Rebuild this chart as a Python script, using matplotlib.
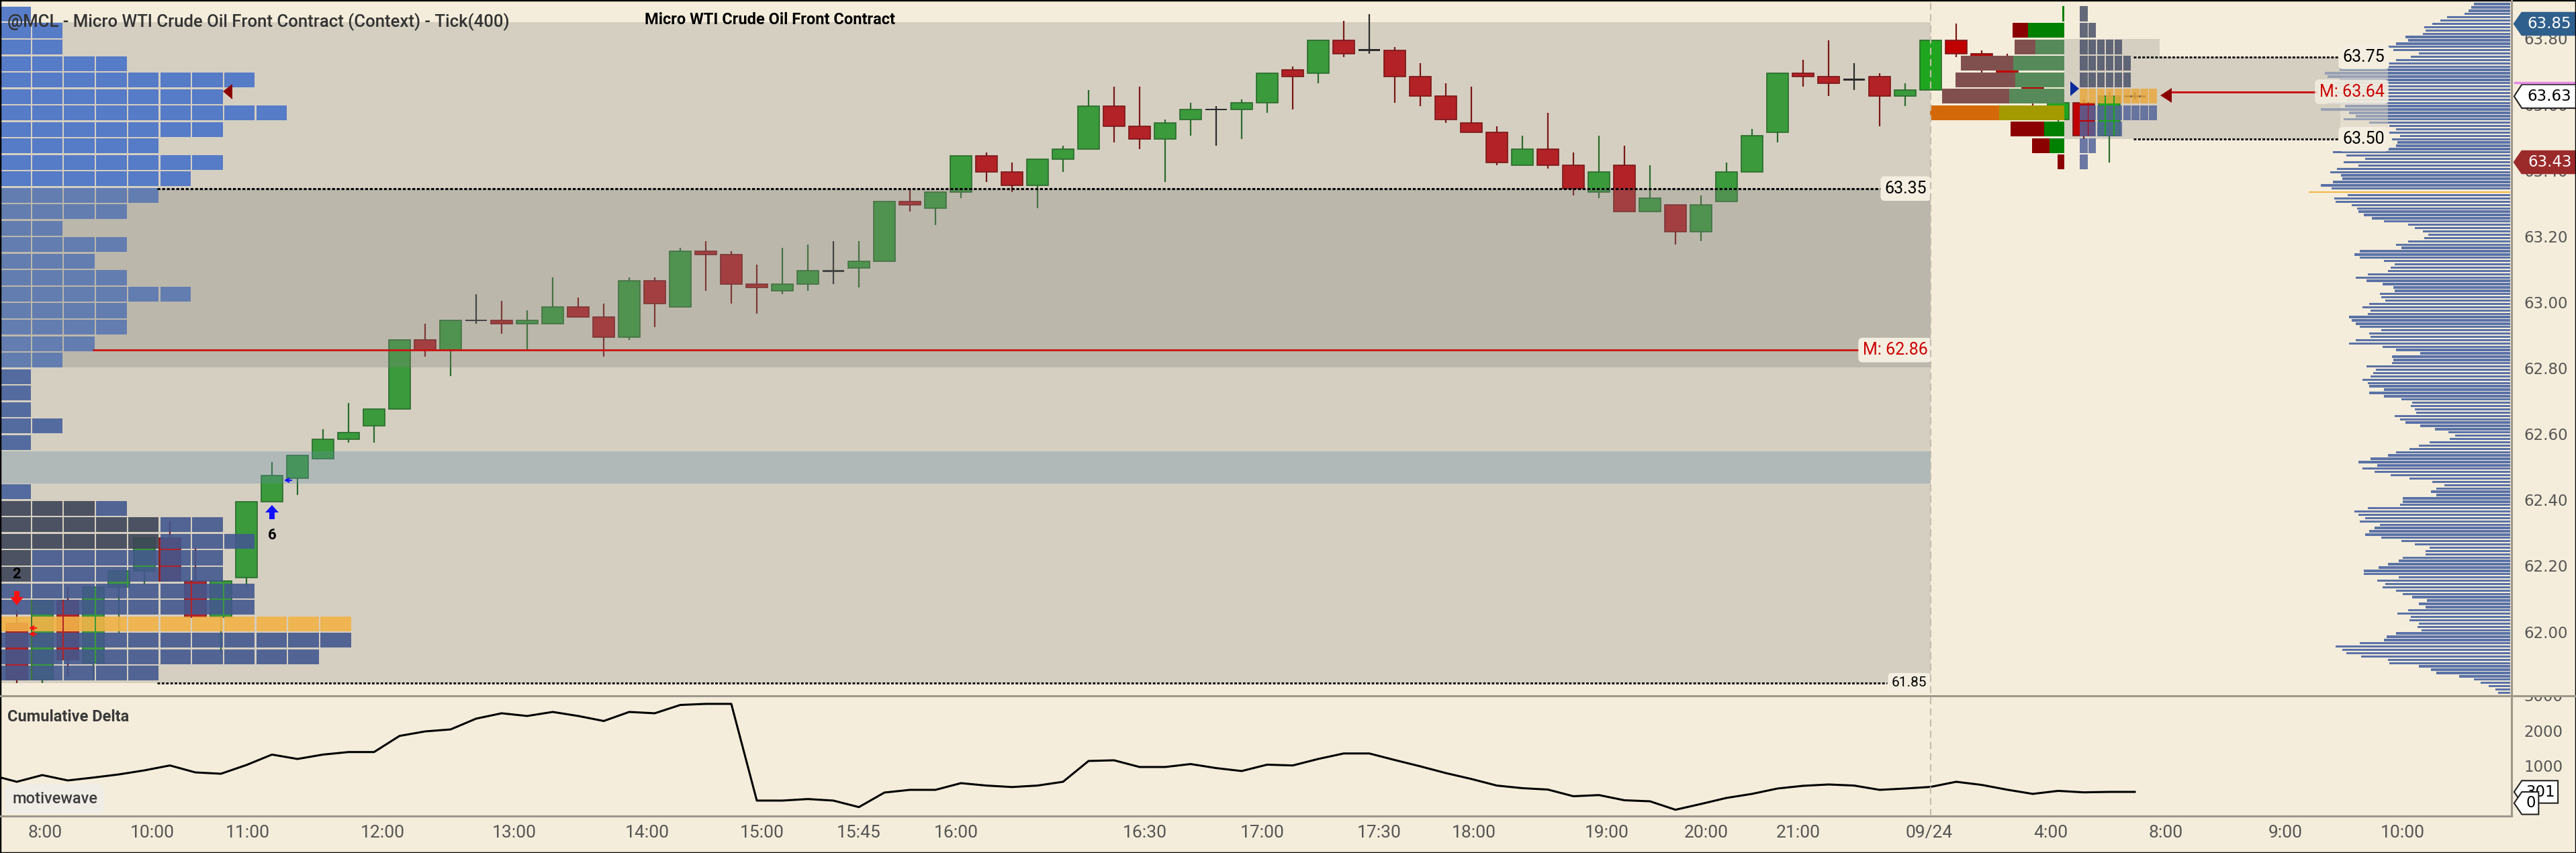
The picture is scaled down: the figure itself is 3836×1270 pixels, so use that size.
import matplotlib
matplotlib.use("Agg")
import matplotlib.pyplot as plt
import matplotlib.transforms as mtransforms
from matplotlib.lines import Line2D
from matplotlib.patches import Rectangle, Polygon
import numpy as np

plt.rcParams['font.family'] = ['Roboto', 'DejaVu Sans']

# ---------------- data ----------------
# 400-tick bars, bar 75 is the first bar of 09/24
opens = [62.03, 61.86, 62.10, 61.91, 62.14, 62.19, 62.29, 62.16, 62.05, 62.17,
         62.40, 62.47, 62.53, 62.59, 62.63, 62.68, 62.89, 62.86, 62.95, 62.95,
         62.94, 62.94, 62.99, 62.96, 62.90, 63.07, 62.99, 63.16, 63.15, 63.06,
         63.04, 63.06, 63.10, 63.11, 63.13, 63.31, 63.29, 63.34, 63.45, 63.40,
         63.36, 63.44, 63.47, 63.60, 63.54, 63.50, 63.56, 63.59, 63.59, 63.61,
         63.71, 63.70, 63.80, 63.77, 63.77, 63.69, 63.63, 63.55, 63.52, 63.42,
         63.47, 63.42, 63.34, 63.42, 63.28, 63.30, 63.22, 63.31, 63.40, 63.52,
         63.70, 63.69, 63.68, 63.69, 63.63, 63.65, 63.80, 63.76, 63.73, 63.66,
         63.56, 63.61, 63.51, 63.63]
highs = [62.07, 62.10, 62.14, 62.14, 62.19, 62.29, 62.34, 62.26, 62.16, 62.40,
         62.52, 62.54, 62.62, 62.70, 62.68, 62.89, 62.94, 62.95, 63.03, 63.01,
         62.98, 63.08, 63.02, 63.00, 63.08, 63.08, 63.17, 63.19, 63.16, 63.12,
         63.17, 63.18, 63.19, 63.19, 63.31, 63.35, 63.34, 63.45, 63.46, 63.43,
         63.44, 63.48, 63.65, 63.66, 63.66, 63.56, 63.61, 63.60, 63.62, 63.70,
         63.72, 63.80, 63.86, 63.88, 63.78, 63.73, 63.67, 63.66, 63.54, 63.51,
         63.58, 63.46, 63.51, 63.48, 63.42, 63.30, 63.33, 63.43, 63.53, 63.70,
         63.74, 63.80, 63.73, 63.70, 63.67, 63.80, 63.85, 63.77, 63.76, 63.70,
         63.61, 63.62, 63.64, 63.64]
lows = [61.85, 61.85, 61.87, 61.86, 62.00, 62.15, 62.16, 62.05, 61.94, 62.14,
        62.40, 62.42, 62.53, 62.58, 62.58, 62.68, 62.84, 62.78, 62.94, 62.91,
        62.86, 62.94, 62.96, 62.84, 62.89, 62.93, 62.99, 63.04, 63.00, 62.97,
        63.03, 63.04, 63.06, 63.05, 63.13, 63.28, 63.24, 63.32, 63.37, 63.34,
        63.29, 63.40, 63.47, 63.49, 63.47, 63.37, 63.51, 63.48, 63.50, 63.58,
        63.59, 63.67, 63.75, 63.76, 63.61, 63.60, 63.55, 63.52, 63.42, 63.42,
        63.41, 63.33, 63.32, 63.28, 63.28, 63.18, 63.19, 63.31, 63.40, 63.49,
        63.66, 63.63, 63.65, 63.54, 63.60, 63.65, 63.75, 63.70, 63.66, 63.59,
        63.55, 63.50, 63.43, 63.62]
closes = [61.86, 62.10, 61.92, 62.14, 62.19, 62.29, 62.16, 62.05, 62.16, 62.40,
          62.48, 62.54, 62.59, 62.61, 62.68, 62.89, 62.86, 62.95, 62.95, 62.94,
          62.95, 62.99, 62.96, 62.90, 63.07, 63.00, 63.16, 63.15, 63.06, 63.05,
          63.06, 63.10, 63.10, 63.13, 63.31, 63.30, 63.34, 63.45, 63.40, 63.36,
          63.44, 63.47, 63.60, 63.54, 63.50, 63.55, 63.59, 63.59, 63.61, 63.70,
          63.69, 63.80, 63.76, 63.77, 63.69, 63.63, 63.56, 63.52, 63.43, 63.47,
          63.42, 63.35, 63.40, 63.28, 63.32, 63.22, 63.30, 63.40, 63.51, 63.70,
          63.69, 63.67, 63.68, 63.63, 63.65, 63.80, 63.76, 63.72, 63.69, 63.61,
          63.61, 63.51, 63.63, 63.63]

# cumulative delta, the first value belongs to the bar just left of the view
delta = [780, 589, 780, 627, 709, 799, 914, 1054, 856, 818, 1067, 1364, 1239, 1364,
         1436, 1436, 1896, 2024, 2081, 2388, 2541, 2464, 2579, 2464, 2321, 2579, 2541,
         2778, 2809, 2809, 53, 53, 97, 53, -133, 282, 359, 359, 550, 481, 439, 481, 589,
         1182, 1201, 1010, 1010, 1094, 979, 895, 1077, 1054, 1239, 1396, 1396, 1209,
         1029, 837, 669, 481, 407, 367, 177, 210, 62, 33, -208, -43, 129, 244, 397, 474,
         512, 481, 359, 397, 443, 589, 500, 363, 244, 330, 288, 301, 301]

time_labels = ['8:00', '10:00', '11:00', '12:00', '13:00', '14:00', '15:00', '15:45',
               '16:00', '16:30', '17:00', '17:30', '18:00', '19:00', '20:00', '21:00',
               '09/24', '4:00', '8:00', '9:00', '10:00']
time_pos = [1.1, 5.3, 9.05, 14.35, 19.5, 24.7, 29.2, 33.0, 36.8, 44.2, 48.8, 53.4,
            57.1, 62.3, 66.2, 69.8, 74.95, 79.7, 84.2, 88.9, 93.5]

price_ticks = [62.00, 62.20, 62.40, 62.60, 62.80, 63.00, 63.20, 63.40, 63.60, 63.80]
delta_ticks = [1000, 2000, 3000]

# context session profile, 0.05 rows from the top
lp_top = 63.905
lp_blocks = [1, 2, 2, 4, 8, 7, 9, 7, 5, 7, 6, 5, 4, 2, 4, 3, 4, 6, 4, 4, 3, 2, 1, 1, 1,
             2, 1, 0, 0, 1, 4, 7, 8, 7, 7, 8, 8, 11, 11, 10, 5]
lp_dark = [0] * 30 + [3, 5, 5, 1, 1, 0, 0, 0, 0, 0, 0]
lp_poc_row = 37

# composite volume profile, 0.01 rows from 63.91 down
vp_top = 63.91
vp_volume = [54, 58, 62, 68, 94, 104, 116, 128, 126, 130,
             156, 152, 170, 204, 174, 136, 148, 170, 216, 230,
             254, 276, 272, 254, 260, 268, 250, 260, 250, 244,
             272, 246, 282, 240, 230, 248, 210, 180, 170, 180,
             164, 176, 168, 170, 212, 264, 244, 216, 248, 226,
             258, 268, 252, 250, 264, 282, 266, 300, 242, 262,
             260, 236, 228, 226, 218, 206, 188, 152, 142, 130,
             122, 128, 152, 170, 162, 224, 232, 224, 188, 172,
             178, 182, 212, 230, 214, 190, 174, 172, 194, 192,
             186, 210, 220, 208, 212, 240, 236, 230, 224, 192,
             210, 208, 230, 240, 190, 170, 134, 176, 174, 176,
             214, 200, 204, 208, 220, 212, 210, 188, 210, 188,
             162, 146, 148, 142, 140, 172, 164, 156, 134, 112,
             92, 82, 90, 120, 136, 150, 170, 182, 208, 226,
             198, 220, 202, 178, 150, 116, 98, 110, 118, 110,
             160, 160, 164, 212, 232, 226, 216, 224, 194, 202,
             210, 216, 192, 162, 142, 120, 126, 126, 160, 166,
             182, 196, 218, 218, 166, 198, 186, 190, 170, 160,
             146, 124, 136, 126, 152, 168, 148, 150, 136, 138,
             132, 170, 184, 188, 224, 260, 250, 244, 222, 182,
             180, 136, 118, 110, 76, 54, 44, 32, 22, 18, 28]

# current session footprint, same 0.05 rows
fp_sell = [0, 23, 31, 78, 89, 100, 103, 50, 26, 10]
fp_buy = [3, 54, 43, 76, 73, 82, 97, 30, 22, 0]
fp_blocks = [1, 2, 5, 6, 6, 9, 9, 5, 2, 1]

ctx_high, ctx_low = 63.855, 61.85
ctx_vah, ctx_val = 63.35, 62.807
ctx_mid = 62.86
band_low, band_high = 62.455, 62.553
cur_vah, cur_val = 63.75, 63.50
cur_mid = 63.64

# ---------------- layout helpers ----------------
W, H = 3836, 1270
BG = '#f5eddb'


def X(px):
    return (px - 25) / 38.0


def P(py):
    return 63.80 - (py - 60) / 490.6


def fbox(x0, y0, x1, y1):
    return [x0 / W, 1 - y1 / H, (x1 - x0) / W, (y1 - y0) / H]


fig = plt.figure(figsize=(W / 100, H / 100), dpi=100)
fig.patch.set_facecolor(BG)

ax = fig.add_axes(fbox(0, 0, 3740, 1036))
axd = fig.add_axes(fbox(0, 1036, 3740, 1215))
axr = fig.add_axes(fbox(3740, 0, 3836, 1036))
axdr = fig.add_axes(fbox(3740, 1036, 3836, 1215))
for a in (ax, axd, axr, axdr):
    a.set_axis_off()
ax.set_xlim(X(0), X(3740))
axd.set_xlim(X(0), X(3740))
ax.set_ylim(P(1036), P(0))
axr.set_ylim(P(1036), P(0))
axd.set_ylim(-388, 3038)
axdr.set_ylim(-388, 3038)
axr.set_xlim(0, 1)
axdr.set_xlim(0, 1)

xsep = X(2875)

# context session box
ax.add_patch(Rectangle((X(0), ctx_low), xsep - X(0), ctx_high - ctx_low,
                       fc='#d5cfc1', ec='none', zorder=0.5))

# candles
for i in range(len(opens)):
    o, h, l, c = opens[i], highs[i], lows[i], closes[i]
    new = i >= 75
    if c > o:
        fc, ec = ('#1fa51f' if new else '#3a9a3c'), '#2a6b2c'
    elif c < o:
        fc, ec = ('#c00000' if new else '#b22227'), '#7a1717'
    else:
        fc, ec = '#2b2b2b', '#2b2b2b'
    ax.vlines(i, l, h, color=ec, lw=1.6, zorder=2)
    if c == o:
        ax.bar(i, 0.006, bottom=o - 0.003, width=0.82, color=fc, zorder=3)
    else:
        ax.bar(i, abs(c - o), bottom=min(o, c), width=0.82, color=fc,
               edgecolor=ec, linewidth=1.2, zorder=3)

# left profile blocks
for r, nb in enumerate(lp_blocks):
    top = lp_top - 0.05 * r
    for k in range(nb):
        if r == lp_poc_row:
            col = '#f2b347'
        elif k < lp_dark[r]:
            col = '#3e4558'
        elif r < 22:
            col = '#4872c8'
        elif r < 30:
            col = '#46609c'
        else:
            col = '#43588e'
        ax.add_patch(Rectangle((X(k * 47.7), top - 0.048), 45.5 / 38, 0.045,
                               fc=col, ec='none', alpha=0.9, zorder=3.5))
ax.add_patch(Polygon([(X(332), P(136)), (X(346), P(125)), (X(346), P(148))],
                     fc='#8b0000', ec='none', zorder=6))

# value area band and blue band
ax.add_patch(Rectangle((X(0), ctx_val), xsep - X(0), ctx_vah - ctx_val,
                       fc='#82827d', alpha=0.31, ec='none', zorder=4))
ax.add_patch(Rectangle((X(0), band_low), xsep - X(0), band_high - band_low,
                       fc='#648ca5', alpha=0.32, ec='none', zorder=4))

# level lines and labels
box = dict(boxstyle='round,pad=0.25', fc='#f4eee0', ec='none')
dash = (0, (1.4, 0.9))
ax.hlines(ctx_vah, X(234), X(2800), colors='black', linestyles=dash, lw=2.2, zorder=6)
ax.hlines(ctx_low, X(234), X(2810), colors='black', linestyles=dash, lw=2.0, zorder=6)
ax.hlines(ctx_mid, X(138), X(2771), colors='#cc1111', lw=2, zorder=6)
ax.text(X(2838), ctx_vah, f'{ctx_vah:.2f}', ha='center', va='center', fontsize=18,
        color='black', bbox=box, zorder=7)
ax.text(X(2843), ctx_low, f'{ctx_low:.2f}', ha='center', va='center', fontsize=15,
        color='black', bbox=box, zorder=7)
ax.text(X(2822), ctx_mid, f'M: {ctx_mid:.2f}', ha='center', va='center', fontsize=18,
        color='#cc0000', bbox=box, zorder=7)

# signal markers
ax.add_patch(Polygon([(X(21), P(880)), (X(29), P(880)), (X(29), P(889)), (X(35), P(889)),
                      (X(25), P(901)), (X(15), P(889)), (X(21), P(889))],
                     fc='#ff1010', ec='none', zorder=7))
ax.add_patch(Polygon([(X(401), P(773)), (X(409), P(773)), (X(409), P(763)), (X(415), P(763)),
                      (X(405), P(752)), (X(395), P(763)), (X(401), P(763))],
                     fc='#1010ff', ec='none', zorder=7))
ax.text(X(25), P(855), '2', ha='center', va='center', fontsize=16, fontweight='bold', zorder=7)
ax.text(X(405), P(797), '6', ha='center', va='center', fontsize=16, fontweight='bold', zorder=7)
for yy in (935, 944):
    ax.annotate('', xy=(X(40), P(yy)), xytext=(X(57), P(yy)),
                arrowprops=dict(arrowstyle='->', color='#ff1010', lw=1.5), zorder=7)
ax.annotate('', xy=(X(420), P(715)), xytext=(X(437), P(715)),
            arrowprops=dict(arrowstyle='->', color='#1010ff', lw=1.5), zorder=7)

# current session value area
ax.add_patch(Rectangle((X(3074), cur_val), X(3485) - X(3074), cur_vah - cur_val,
                       fc='#d5cfc1', ec='none', zorder=0.6))
ax.add_patch(Rectangle((X(3074), 63.555), X(3216) - X(3074), 0.25,
                       fc='#d5cfc1', ec='none', zorder=0.6))

# composite volume profile
vp_prices = [vp_top - 0.01 * k for k in range(len(vp_volume))]
vmax = max(vp_volume)
vp_cols = ['#f6b540' if v == vmax else '#5a72a7' for v in vp_volume]
vp_h = [0.004 if v == vmax else 0.0068 for v in vp_volume]
ax.barh(vp_prices, [v / 38 for v in vp_volume], left=[X(3738) - v / 38 for v in vp_volume],
        height=vp_h, color=vp_cols, zorder=2)
ax.add_patch(Rectangle((X(3400), 63.532), X(3556) - X(3400), 0.183,
                       fc='#d5cfc1', alpha=0.5, ec='none', zorder=2.5))

# footprint bars (sell | buy), right aligned
for r in range(len(fp_sell)):
    lo = lp_top - 0.05 * (r + 1) + 0.003
    b, s = fp_buy[r], fp_sell[r]
    if r == 6:
        sc, bc = '#d4690a', '#a39a00'
    elif 2 <= r <= 5:
        sc, bc = '#80504f', '#578a5a'
    else:
        sc, bc = '#8b0000', '#008000'
    if b:
        ax.add_patch(Rectangle((X(3074 - b), lo), b / 38, 0.045, fc=bc, ec='none', zorder=4.5))
    if s:
        ax.add_patch(Rectangle((X(3074 - b - s), lo), s / 38, 0.045, fc=sc, ec='none', zorder=4.5))

# footprint block profile
for r, nb in enumerate(fp_blocks):
    lo = lp_top - 0.05 * (r + 1) + 0.003
    for k in range(nb):
        col = '#eaa940' if r == 5 else ('#4b5269' if r < 5 else '#53649a')
        ax.add_patch(Rectangle((X(3097 + 12.9 * k), lo), 11.5 / 38, 0.045,
                               fc=col, ec='none', alpha=0.85, zorder=4.5))

ax.hlines([cur_vah, cur_val], X(3177), X(3484), colors='black', linestyles=dash, lw=2.0, zorder=6)
for v in (cur_vah, cur_val):
    ax.text(X(3520), v, f'{v:.2f}', ha='center', va='center', fontsize=18, bbox=box, zorder=7)
ax.hlines(63.644, X(3233), X(3451), colors='#cc0000', lw=2, zorder=6)
ax.text(X(3502), 63.644, f'M: {cur_mid:.2f}', ha='center', va='center', fontsize=18,
        color='#cc0000', bbox=dict(boxstyle='round,pad=0.25', fc='#f4eee0', ec='none', alpha=0.85),
        zorder=7)
ax.add_patch(Polygon([(X(3217), P(142)), (X(3234), P(131)), (X(3234), P(153))],
                     fc='#8b0000', ec='none', zorder=7))
ax.add_patch(Polygon([(X(3096), P(132)), (X(3083), P(121)), (X(3083), P(143))],
                     fc='#0a2a9a', ec='none', zorder=7))

# right price axis
for p in price_ticks:
    axr.text(0.19, p, f'{p:.2f}', ha='left', va='center', fontsize=16.5,
             color='#555555', family='DejaVu Sans', zorder=2)


def tag(a, y, text, fc, tc, h, z, right=1.0, ec=None):
    pts = [(0.04, y), (0.16, y + h / 2), (right, y + h / 2), (right, y - h / 2), (0.16, y - h / 2)]
    a.add_patch(Polygon(pts, closed=True, fc=fc, ec=ec or fc, lw=1.5, zorder=z, clip_on=False))
    a.text((0.16 + right) / 2 + 0.01, y, text, ha='center', va='center', fontsize=16.5,
           color=tc, family='DejaVu Sans', zorder=z + 0.5, clip_on=False)


tag(axr, 63.85, '63.85', '#2f5f8c', 'white', 0.068, 5)
tag(axr, 63.43, '63.43', '#9b2b2b', 'white', 0.068, 5)
tag(axr, 63.63, '63.63', 'white', 'black', 0.072, 5, ec='#222222')
axr.plot([0.05, 1.0], [63.672, 63.672], color='#e58be5', lw=2.5, zorder=6)

# cumulative delta panel
axd.plot(np.arange(-1, len(delta) - 1), delta, color='black', lw=2.2, zorder=3)
tb = mtransforms.blended_transform_factory(axd.transData, axd.transAxes)
for pos, lab in zip(time_pos, time_labels):
    axd.text(pos, -0.14, lab, transform=tb, ha='center', va='center', fontsize=19,
             color='#555555', clip_on=False)
for v in delta_ticks:
    t = axdr.text(0.19, v, str(v), ha='left', va='center', fontsize=16.5,
                  color='#555555', family='DejaVu Sans')
    t.set_clip_on(True)
tag(axdr, delta[-1], str(delta[-1]), 'white', 'black', 640, 5, right=0.72, ec='#222222')
tag(axdr, -20, '0', 'white', 'black', 640, 7, right=0.42, ec='#222222')

# separators, frame
sep = '#9d978c'
fig.add_artist(Line2D([0, 1], [1 - 1036 / H] * 2, color=sep, lw=2.2))
fig.add_artist(Line2D([0, 3740 / W], [1 - 1215 / H] * 2, color=sep, lw=2.2))
fig.add_artist(Line2D([3740 / W] * 2, [1 - 1215 / H, 1], color=sep, lw=2.2))
fig.add_artist(Line2D([2875 / W] * 2, [1 - 1215 / H, 1], color='#c6bcaa', lw=1.5,
                      linestyle=(0, (5, 3))))
fig.add_artist(Rectangle((0, 0), 1, 1, transform=fig.transFigure, fill=False,
                         ec='black', lw=2.5))

# headings
fig.text(11 / W, 1 - 33 / H, '@MCL - Micro WTI Crude Oil Front Contract (Context) - Tick(400)',
         ha='left', va='center', fontsize=18.5, fontweight='medium', color='#333333')
fig.text(960 / W, 1 - 30 / H, 'Micro WTI Crude Oil Front Contract', ha='left', va='center',
         fontsize=17, fontweight='bold', color='black')
fig.text(11 / W, 1 - 1068 / H, 'Cumulative Delta', ha='left', va='center', fontsize=17,
         fontweight='bold', color='#3a3a3a')
fig.text(18 / W, 1 - 1189 / H, 'motivewave', ha='left', va='center', fontsize=17,
         fontweight='medium', color='#3d3d3d',
         bbox=dict(boxstyle='round,pad=0.45', fc='#f0ede6', ec='none'))

fig.savefig('out.png', dpi=100, facecolor=BG)
